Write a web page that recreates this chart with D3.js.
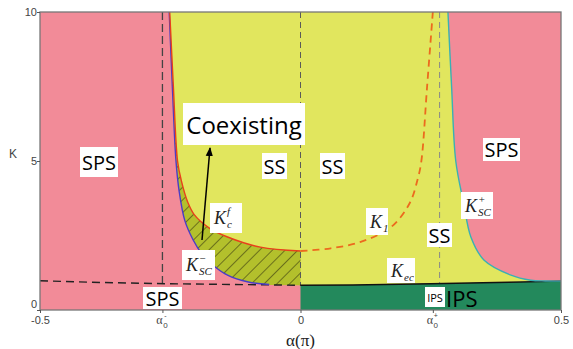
<html>
<script src='https://d3js.org/d3.v7.min.js'></script>
<style>
body { margin: 0; background: white; }
.box { fill: white; }
.lbl { font-family: 'Open Sans', sans-serif; fill: black; }
.math { font-family: 'Liberation Serif', 'DejaVu Serif', serif; font-style: italic; fill: #222; }
.tick text { font-family: 'Liberation Sans', Arial, sans-serif; font-size: 11px; fill: #444; }
</style>
<body>
<svg width=573 height=349></svg>
<script>
// boundary curves, [alpha (pi), K]
const kscMinus = [[-0.252,10],[-0.246,7.5],[-0.239,5],[-0.233,4],[-0.222,3],[-0.206,2.35],[-0.190,1.9],[-0.173,1.58],[-0.140,1.17],[-0.100,0.94],[-0.060,0.855]];
const kcf = [[-0.251,10],[-0.244,7.5],[-0.236,5],[-0.229,4.36],[-0.216,3.6],[-0.204,3.2],[-0.175,2.75],[-0.140,2.45],[-0.077,2.11],[0,1.98]];
const k1 = [[0,1.98],[0.058,2.07],[0.118,2.3],[0.175,2.8],[0.21,3.6],[0.225,4.4],[0.232,5],[0.243,7.5],[0.254,10]];
const kscPlus = [[0.283,10],[0.290,7.5],[0.298,5],[0.313,3.6],[0.327,2.45],[0.352,1.68],[0.404,1.17],[0.442,1.0],[0.47,0.975],[0.5,0.97]];
const kec = [[-0.5,0.98],[-0.4,0.93],[-0.25,0.88],[-0.1,0.85],[0,0.83],[0.1,0.84],[0.25,0.88],[0.4,0.93],[0.5,0.97]];

const alphaMinus = -0.265, alphaPlus = 0.267;
const xTicks = [-0.5, -0.265, 0, 0.254, 0.5];
const xTickText = ["-0.5", "a-", "0", "a+", "0.5"];
const yTicks = [0, 5, 10];

const pink = "#f28b98", yellow = "#e1e65e", green = "#23895c", olive = "#b3c02c";

const svg = d3.select("svg");
const x = d3.scaleLinear().domain([-0.5, 0.5]).range([40, 561]);
const y = d3.scaleLinear().domain([0, 10]).range([310, 12]);

const line = d3.line().x(d => x(d[0])).y(d => y(d[1]));
const curve = d3.line().x(d => x(d[0])).y(d => y(d[1])).curve(d3.curveCatmullRom.alpha(0.5));

// hatch pattern
const defs = svg.append("defs");
const pat = defs.append("pattern")
    .attr("id", "hatch")
    .attr("patternUnits", "userSpaceOnUse")
    .attr("width", 9).attr("height", 9)
    .attr("patternTransform", "rotate(45)");
pat.append("rect").attr("width", 9).attr("height", 9).attr("fill", olive);
pat.append("line").attr("x1", 0).attr("y1", 0).attr("x2", 0).attr("y2", 9)
    .attr("stroke", "#3a3a10").attr("stroke-width", 1.2);

defs.append("clipPath").attr("id", "plot")
    .append("rect").attr("x", x(-0.5)).attr("y", y(10))
    .attr("width", x(0.5) - x(-0.5)).attr("height", y(0) - y(10));

const g = svg.append("g").attr("clip-path", "url(#plot)");

// SPS background
g.append("rect").attr("x", x(-0.5)).attr("y", y(10))
    .attr("width", x(0.5) - x(-0.5)).attr("height", y(0) - y(10))
    .attr("fill", pink);

// kec interpolation
const kecAt = a => {
    for (let i = 1; i < kec.length; i++) {
        if (a <= kec[i][0]) {
            const t = (a - kec[i-1][0]) / (kec[i][0] - kec[i-1][0]);
            return kec[i-1][1] + t * (kec[i][1] - kec[i-1][1]);
        }
    }
    return kec[kec.length-1][1];
};

// SS region (yellow)
const ssPath = curve(kscMinus) +
    "L" + kec.filter(d => d[0] > -0.06).map(d => x(d[0]) + "," + y(d[1])).join("L") +
    "L" + curve(kscPlus.slice().reverse()).slice(1) + "Z";
g.append("path").attr("d", ssPath).attr("fill", yellow);

// IPS (green)
const ipsPts = [[0,0]].concat(kec.filter(d => d[0] >= 0)).concat([[0.5,0]]);
g.append("path").attr("d", line(ipsPts) + "Z").attr("fill", green);

// coexisting hatched region
const coexPath = curve(kcf) +
    "L" + x(0) + "," + y(kecAt(0)) +
    "L" + x(-0.06) + "," + y(kecAt(-0.06)) +
    "L" + curve(kscMinus.slice().reverse()).slice(1) + "Z";
g.append("path").attr("d", coexPath).attr("fill", "url(#hatch)");

// vertical dashed lines
g.append("line").attr("x1", x(alphaMinus)).attr("x2", x(alphaMinus))
    .attr("y1", y(10)).attr("y2", y(0))
    .attr("stroke", "#444").attr("stroke-width", 1.3).attr("stroke-dasharray", "8,4");
g.append("line").attr("x1", x(0)).attr("x2", x(0))
    .attr("y1", y(10)).attr("y2", y(kecAt(0)))
    .attr("stroke", "#5a5a5a").attr("stroke-width", 1).attr("stroke-dasharray", "6,4");
g.append("line").attr("x1", x(alphaPlus)).attr("x2", x(alphaPlus))
    .attr("y1", y(10)).attr("y2", y(kecAt(alphaPlus)))
    .attr("stroke", "#888").attr("stroke-width", 1).attr("stroke-dasharray", "6,4");

// Kec line: dashed left, solid right
g.append("path").attr("d", line(kec.filter(d => d[0] <= 0)))
    .attr("fill", "none").attr("stroke", "#222").attr("stroke-width", 1.4).attr("stroke-dasharray", "8,5");
g.append("path").attr("d", line(kec.filter(d => d[0] >= 0)))
    .attr("fill", "none").attr("stroke", "#111").attr("stroke-width", 1.4);

// boundary curves
g.append("path").attr("d", curve(kscMinus)).attr("fill", "none")
    .attr("stroke", "#4a3cc8").attr("stroke-width", 1.4);
g.append("path").attr("d", curve(kcf)).attr("fill", "none")
    .attr("stroke", "#e8401c").attr("stroke-width", 1.4);
g.append("path").attr("d", curve(k1)).attr("fill", "none")
    .attr("stroke", "#ec6a1e").attr("stroke-width", 1.8).attr("stroke-dasharray", "7,5");
g.append("path").attr("d", curve(kscPlus)).attr("fill", "none")
    .attr("stroke", "#3ab0b4").attr("stroke-width", 1.4);

// frame
svg.append("rect").attr("x", x(-0.5)).attr("y", y(10))
    .attr("width", x(0.5) - x(-0.5)).attr("height", y(0) - y(10))
    .attr("fill", "none").attr("stroke", "#777").attr("stroke-width", 1.3);

// axes
const yAxis = svg.append("g").attr("transform", "translate(" + x(-0.5) + ",0)")
    .call(d3.axisLeft(y).tickValues(yTicks).tickSize(3).tickFormat(d3.format("d")));
yAxis.select(".domain").remove();
yAxis.selectAll(".tick line").attr("stroke", "#555");
yAxis.selectAll(".tick text").attr("x", -3);
yAxis.selectAll(".tick").filter(d => d === 0).select("text").attr("dy", "-0.2em");

const xAxis = svg.append("g").attr("transform", "translate(0," + y(0) + ")")
    .call(d3.axisBottom(x).tickValues(xTicks).tickSize(3).tickFormat((d, i) => xTickText[i][0] === "a" ? "" : xTickText[i]));
xAxis.select(".domain").remove();
xAxis.selectAll(".tick line").attr("stroke", "#555");
xAxis.selectAll(".tick text").attr("y", 6);

// alpha_0 tick labels built from pieces
xTickText.forEach((t, i) => {
    if (t[0] !== "a") return;
    const cx = x(xTicks[i]);
    svg.append("text").attr("x", cx - 3).attr("y", y(0) + 14)
        .attr("text-anchor", "middle")
        .style("font-family", "'Liberation Serif', serif").style("font-size", "12px").style("fill", "#444")
        .text("α");
    svg.append("text").attr("x", cx + 3).attr("y", y(0) + 18)
        .attr("text-anchor", "middle")
        .style("font-family", "'Liberation Sans', sans-serif").style("font-size", "8px").style("fill", "#444")
        .text("0");
    svg.append("text").attr("x", cx + 3).attr("y", y(0) + 8)
        .attr("text-anchor", "middle")
        .style("font-family", "'Liberation Sans', sans-serif").style("font-size", "7px").style("fill", "#444")
        .text(t[1] === "-" ? "-" : "+");
});

svg.append("text").attr("x", 13).attr("y", 158)
    .attr("text-anchor", "middle")
    .style("font-family", "'Liberation Sans', sans-serif").style("font-size", "12px").style("fill", "#444")
    .text("K");

svg.append("text").attr("x", x(0)).attr("y", 346)
    .attr("text-anchor", "middle")
    .style("font-family", "'Liberation Serif', serif").style("font-size", "17px").style("fill", "#222")
    .text("α(π)");

// label boxes
function boxLabel(x0, y0, w, h, txt, size) {
    svg.append("rect").attr("class", "box").attr("x", x0).attr("y", y0).attr("width", w).attr("height", h);
    svg.append("text").attr("class", "lbl")
        .attr("x", x0 + w / 2).attr("y", y0 + h / 2)
        .attr("text-anchor", "middle").attr("dominant-baseline", "central")
        .style("font-size", size + "px").text(txt);
}
boxLabel(80, 147, 38, 30, "SPS", 20);
boxLabel(483, 138, 37, 23, "SPS", 20);
boxLabel(183, 103, 122, 42, "Coexisting", 24);
boxLabel(262, 153, 25, 26, "SS", 20);
boxLabel(320, 153, 25, 26, "SS", 20);
boxLabel(427, 223, 25, 24, "SS", 20);
boxLabel(143, 287, 39, 22, "SPS", 20);
boxLabel(425, 287, 20, 20, "IPS", 11);
svg.append("text").attr("class", "lbl").attr("x", 446).attr("y", 298)
    .attr("dominant-baseline", "central").style("font-size", "22px").text("IPS");

// math labels
function mathLabel(x0, y0, w, h, sub, sup) {
    svg.append("rect").attr("class", "box").attr("x", x0).attr("y", y0).attr("width", w).attr("height", h);
    const t = svg.append("text").attr("class", "math")
        .attr("x", x0 + 4).attr("y", y0 + h / 2 + 6).style("font-size", "18px");
    t.append("tspan").text("K");
    const subX = x0 + 17;
    if (sup) t.append("tspan").attr("x", subX).attr("dy", -9).style("font-size", "11px").text(sup);
    t.append("tspan").attr("x", subX).attr("dy", sup ? 13 : 4).style("font-size", "11px").text(sub);
}
mathLabel(210, 203, 32, 30, "c", "f");
mathLabel(182, 250, 33, 30, "SC", "−");
mathLabel(366, 208, 22, 27, "1", null);
mathLabel(461, 192, 32, 27, "SC", "+");
mathLabel(387, 258, 28, 25, "ec", null);

// arrow to Coexisting
defs.append("marker").attr("id", "arr").attr("viewBox", "0 0 10 10")
    .attr("refX", 9).attr("refY", 5).attr("markerWidth", 6).attr("markerHeight", 6)
    .attr("orient", "auto")
    .append("path").attr("d", "M0,1L10,5L0,9Z").attr("fill", "black");
svg.append("line").attr("x1", 202).attr("y1", 240).attr("x2", 210).attr("y2", 148)
    .attr("stroke", "black").attr("stroke-width", 1.5).attr("marker-end", "url(#arr)");
</script>
</body>
</html>
